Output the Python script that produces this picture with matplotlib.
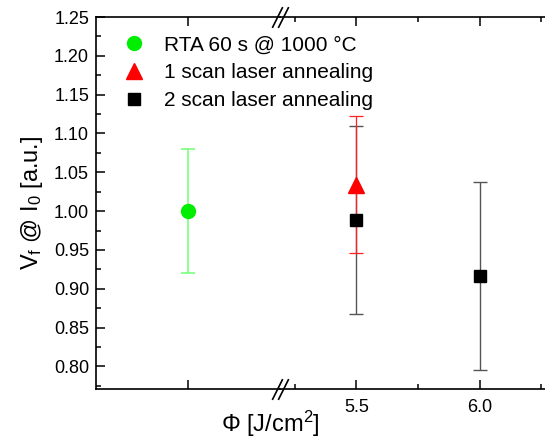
#Recreating the Vf @ I0 vs fluence chart with a broken x axis
import matplotlib.pyplot as plt
from matplotlib import transforms

plt.rcParams['font.family'] = ['Liberation Sans', 'DejaVu Sans']
plt.rcParams['mathtext.fontset'] = 'custom'
plt.rcParams['mathtext.rm'] = 'Liberation Sans'
plt.rcParams['mathtext.it'] = 'Liberation Sans:italic'

#Data
rta_x = [1.0]
rta_y = [1.00]
rta_err = [0.08]

scan1_x = [5.5]
scan1_y = [1.034]
scan1_err = [0.088]

scan2_x = [5.5, 6.0]
scan2_y = [0.989, 0.917]
scan2_err = [0.121, 0.121]

right_ticks = [5.5, 6.0]
right_minor = [5.25, 5.75, 6.25]

fig = plt.figure(figsize=(5.45, 4.45), dpi=100)
ax1 = fig.add_axes([96/545, 1-389/445, 184/545, 372/445])
ax2 = fig.add_axes([280/545, 1-389/445, 275/545, 372/445], sharey=ax1)
ax2.patch.set_visible(False)

#Error bars
ax1.errorbar(rta_x, rta_y, yerr=rta_err, fmt='none', ecolor='#7dff7d', elinewidth=1.2, capsize=5, capthick=1.2)
ax2.errorbar(scan2_x, scan2_y, yerr=scan2_err, fmt='none', ecolor='#555555', elinewidth=1.0, capsize=5, capthick=1.0)
ax2.errorbar(scan1_x, scan1_y, yerr=scan1_err, fmt='none', ecolor='#ff2020', elinewidth=0.9, capsize=5, capthick=0.9)

#Markers
h1, = ax1.plot(rta_x, rta_y, 'o', color='#00ee00', markersize=10, linestyle='none', label='RTA 60 s @ 1000 °C')
h2, = ax2.plot(scan1_x, scan1_y, '^', color='#ff0000', markersize=11, linestyle='none', label='1 scan laser annealing', zorder=4)
h3, = ax2.plot(scan2_x, scan2_y, 's', color='black', markersize=9, linestyle='none', label='2 scan laser annealing', zorder=3)

#Axes limits and ticks
ax1.set_xlim(0, 2)
ax2.set_xlim(5.19, 6.305)
ax1.set_ylim(0.771, 1.25)
ax1.set_yticks([0.80, 0.85, 0.90, 0.95, 1.00, 1.05, 1.10, 1.15, 1.20, 1.25])
ax1.set_yticks([0.775 + 0.05*i for i in range(10)], minor=True)
ax1.set_xticks([1.0])
ax1.set_xticklabels([''])
ax2.set_xticks(right_ticks)
ax2.set_xticklabels(['5.5', '6.0'])
ax2.set_xticks(right_minor, minor=True)

for ax in (ax1, ax2):
    ax.tick_params(which='both', direction='in', top=True, labelsize=13, width=1.1)
    ax.tick_params(which='major', length=6.5)
    ax.tick_params(which='minor', length=3.5)
    ax.tick_params(axis='x', pad=7)
    for s in ax.spines.values():
        s.set_linewidth(1.2)
ax1.tick_params(axis='y', which='both', pad=5, right=False)
ax1.spines['right'].set_visible(False)
ax2.spines['left'].set_visible(False)
ax2.spines['right'].set_visible(False)
ax2.tick_params(axis='y', which='both', left=False, right=False, labelleft=False)

#Break marks
for dx in (-3, 3):
    tr = transforms.offset_copy(ax1.transAxes, fig=fig, x=dx, y=0, units='dots')
    ax1.plot([1, 1], [0, 1], transform=tr, linestyle='none', marker=[(-0.5, -1), (0.5, 1)],
             markersize=15, markeredgewidth=1.2, color='black', clip_on=False)

#Labels
ax1.set_ylabel(r'V$_\mathrm{f}$ @ I$_\mathrm{0}$ [a.u.]', fontsize=17, labelpad=6)
fig.text(270/545, 1-424/445, r'Φ [J/cm$^\mathrm{2}$]', fontsize=17, ha='center', va='center')

fig.legend(handles=[h1, h2, h3], loc='upper left', bbox_to_anchor=(108/545, 1-25/445),
           frameon=False, fontsize=15, handletextpad=0.7, labelspacing=0.42, borderpad=0, handlelength=1.5)

plt.savefig('out.png', dpi=100)
